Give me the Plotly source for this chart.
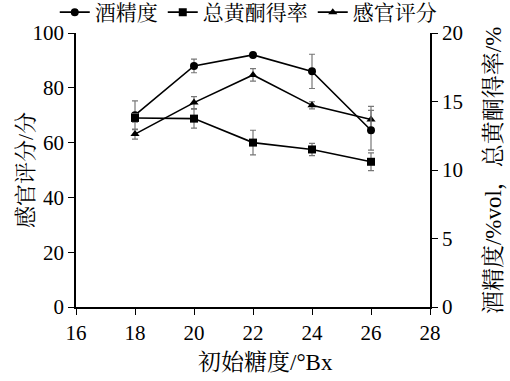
import plotly.graph_objects as go

x = [18, 20, 22, 24, 26]
alcohol = [14.0, 17.6, 18.4, 17.2, 12.9]
alcohol_err = [1.05, 0.5, 0.15, 1.25, 1.45]
flavone = [13.8, 13.75, 12.0, 11.5, 10.6]
flavone_err = [0.3, 0.7, 0.9, 0.45, 0.65]
sensory = [63.1, 74.6, 84.7, 73.6, 68.4]
sensory_err = [1.8, 2.2, 2.3, 1.3, 4.8]

x_title = "初始糖度/°Bx"
y_title = "感官评分/分"
y2_title = "酒精度/%vol，总黄酮得率/%"

FONT = "Times New Roman, Liberation Serif, Noto Serif CJK SC, Noto Sans CJK SC, serif"
err_style = dict(type="data", color="#777777", thickness=1.2, width=3)

fig = go.Figure()
fig.add_trace(go.Scatter(x=x, y=alcohol, name="酒精度", yaxis="y2", mode="lines+markers",
                         line=dict(color="black", width=1.6),
                         marker=dict(symbol="circle", size=8, color="black"),
                         error_y=dict(array=alcohol_err, **err_style)))
fig.add_trace(go.Scatter(x=x, y=flavone, name="总黄酮得率", yaxis="y2", mode="lines+markers",
                         line=dict(color="black", width=1.6),
                         marker=dict(symbol="square", size=8, color="black"),
                         error_y=dict(array=flavone_err, **err_style)))
fig.add_trace(go.Scatter(x=x, y=sensory, name="感官评分", mode="lines+markers",
                         line=dict(color="black", width=1.6),
                         marker=dict(symbol="triangle-up", size=8, color="black"),
                         error_y=dict(array=sensory_err, **err_style)))

axis_common = dict(showline=True, linecolor="black", linewidth=1.5, ticks="outside",
                   ticklen=6, tickcolor="black", tickwidth=1.2, showgrid=False, zeroline=False,
                   automargin=False,
                   tickfont=dict(size=21, color="black", family=FONT))

fig.update_layout(
    width=510, height=381,
    margin=dict(l=76, r=80, t=33, b=74, autoexpand=False),
    plot_bgcolor="white", paper_bgcolor="white",
    font=dict(family=FONT, size=20, color="black"),
    xaxis=dict(range=[16, 28], dtick=2, tick0=16, **axis_common),
    yaxis=dict(range=[0, 100], dtick=20, **axis_common),
    yaxis2=dict(range=[0, 20], dtick=5, overlaying="y", side="right", **axis_common),
    legend=dict(orientation="h", x=-0.06, xanchor="left", y=1.0, yanchor="bottom",
                font=dict(size=21), itemwidth=30, tracegroupgap=0,
                bgcolor="rgba(0,0,0,0)"),
    showlegend=True,
)

fig.add_annotation(text=y_title, xref="paper", yref="paper", x=-0.144, y=0.5,
                   textangle=-90, showarrow=False, font=dict(size=22),
                   xanchor="center", yanchor="middle")
fig.add_annotation(text=y2_title, xref="paper", yref="paper", x=1.181, y=0.5,
                   textangle=-90, showarrow=False, font=dict(size=23),
                   xanchor="center", yanchor="middle")
fig.add_annotation(text=x_title, xref="paper", yref="paper", x=0.534, y=-0.204,
                   showarrow=False, font=dict(size=23),
                   xanchor="center", yanchor="middle")

fig.write_html("out.html")
